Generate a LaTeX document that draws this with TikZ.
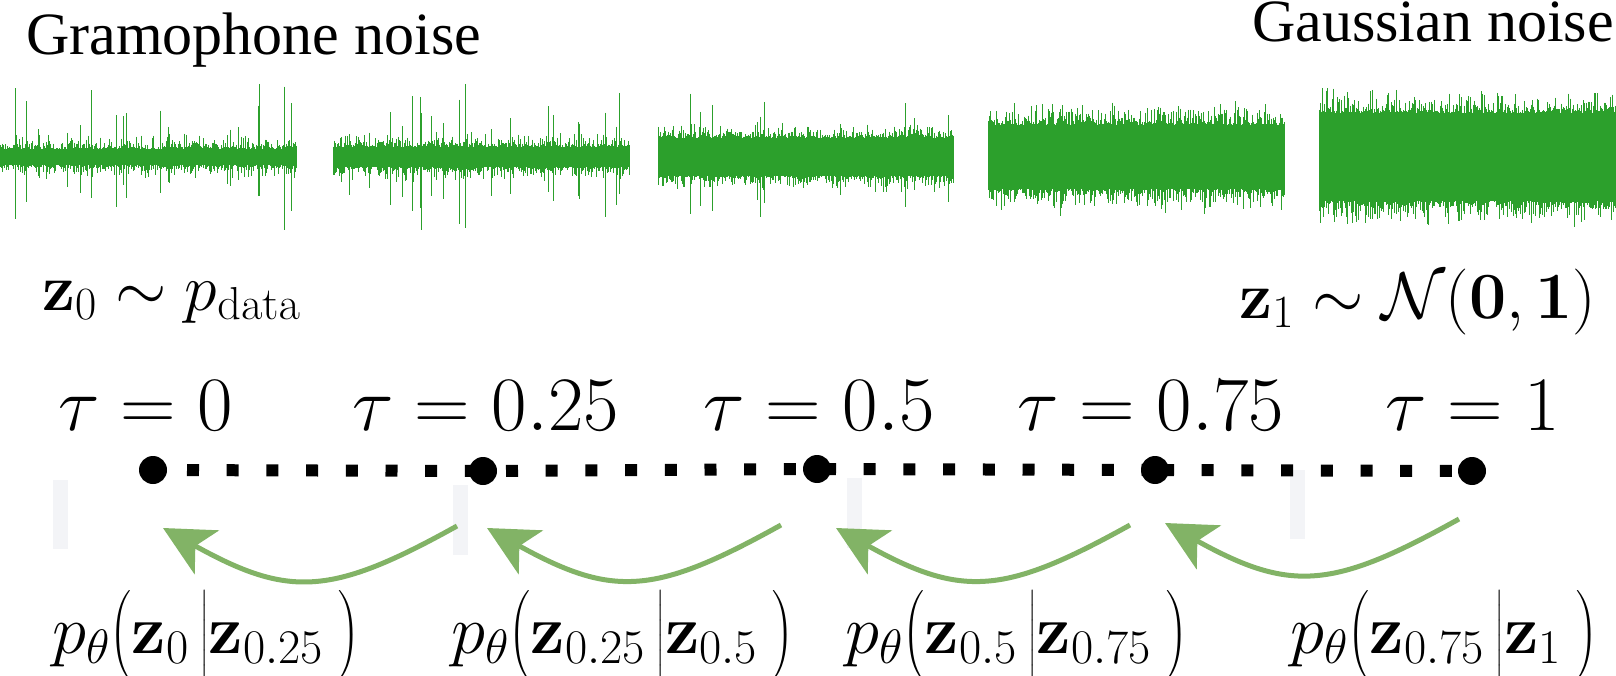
\RequirePackage{fix-cm}
\documentclass[tikz,border=0pt]{standalone}
\usepackage[no-math]{fontspec}
\usepackage{amsmath}
\usetikzlibrary{arrows.meta,calc}
\newfontfamily\tnr{Liberation Serif}
\definecolor{wavegreen}{HTML}{2CA02C}
\definecolor{arrgreen}{HTML}{82B366}
\definecolor{faint}{HTML}{F3F4F7}
% #1 x0, #2 x1, #3 core half-height, #4 fuzz, #5 spike probability, #6 spike size
\newcommand{\wavepanel}[6]{%
  \fill[wavegreen] (#1,157-#3) rectangle (#2,157+#3);
  \foreach \xx in {#1,...,#2}{%
    \pgfmathsetmacro\spk{(rnd<#5 ? #6*rnd : 0)}%
    \pgfmathsetmacro\up{min(73,#3+#4*rnd*rnd+\spk*(0.4+0.6*rnd))}%
    \pgfmathsetmacro\dn{min(73,#3+#4*rnd*rnd+\spk*(0.4+0.6*rnd))}%
    \draw[wave] (\xx,157-\up) -- (\xx,157+\dn);
  }}
\begin{document}
\begin{tikzpicture}[x=1pt,y=-1pt,
  title/.style={font=\tnr\fontsize{60}{66}\selectfont, inner sep=0},
  mlab/.style={font=\fontsize{66}{72}\selectfont, inner sep=0},
  taulab/.style={font=\fontsize{77}{84}\selectfont, inner sep=0, anchor=base west},
  plab/.style={font=\fontsize{69}{76}\selectfont, inner sep=0, anchor=base west},
  dot/.style={circle, fill=black, minimum size=28pt, inner sep=0},
  dotline/.style={line width=12pt, dash pattern=on 12pt off 27.7pt},
  flow/.style={arrgreen, line width=5pt, -{Stealth[length=50pt,width=50pt,inset=13pt]}},
  wave/.style={wavegreen, line width=1pt},
  bar/.style={fill=faint, draw=none}]
\useasboundingbox (0,0) rectangle (1616,676);
\pgfmathsetseed{11}

% faint bars
\fill[bar] (53,480) rectangle (68,549);
\fill[bar] (453,485) rectangle (468,555);
\fill[bar] (847,478) rectangle (862,548);
\fill[bar] (1290,470) rectangle (1305,539);

% waveforms
\wavepanel{0}{296}{8}{15}{0.10}{75}
\wavepanel{333}{629}{10}{16}{0.09}{75}
\wavepanel{658}{953}{19}{17}{0.03}{50}
\wavepanel{988}{1284}{32}{26}{0.02}{20}
\wavepanel{1319}{1616}{44}{28}{0.02}{10}

% titles
\node[title, anchor=base west] (gram) at (26,55) {Gramophone noise};
\node[title, anchor=base east] (gauss) at (1614,42) {Gaussian noise};
\node[mlab, anchor=base west] (z0) at (42,310) {$\mathbf{z}_0 \sim p_{\mathrm{data}}$};
\node[mlab, anchor=base east] (z1) at (1596,318) {$\mathbf{z}_1 \sim \mathcal{N}(\mathbf{0},\mathbf{1})$};

% tau labels
\node[taulab] (tau0) at (58,430) {$\tau = 0$};
\node[taulab] (tau1) at (352,430) {$\tau = 0.25$};
\node[taulab] (tau2) at (703,430) {$\tau = 0.5$};
\node[taulab] (tau3) at (1017,430) {$\tau = 0.75$};
\node[taulab] (tau4) at (1385,430) {$\tau = 1$};

% time points
\coordinate (p1) at (153,470);
\coordinate (p2) at (483,471);
\coordinate (p3) at (817,469);
\coordinate (p4) at (1155,470);
\coordinate (p5) at (1472,471);
\draw[dotline, dash phase=5.7pt] (p1) -- (p2);
\draw[dotline, dash phase=16.7pt] (p2) -- (p3);
\draw[dotline, dash phase=32.7pt] (p3) -- (p4);
\draw[dotline, dash phase=32.7pt] (p4) -- (p5);
\node[dot] (d1) at (p1) {};
\node[dot] (d2) at (p2) {};
\node[dot] (d3) at (p3) {};
\node[dot] (d4) at (p4) {};
\node[dot] (d5) at (p5) {};

% reverse arrows
\coordinate (s1) at (457,526); \coordinate (t1) at (163,528);
\coordinate (s2) at (781,525); \coordinate (t2) at (487,528);
\coordinate (s3) at (1130,525); \coordinate (t3) at (836,528);
\coordinate (s4) at (1459,519); \coordinate (t4) at (1165,523);
\draw[flow] (s1) .. controls ($(s1)+(-126,70)$) and ($(t1)+(126,70)$) .. (t1);
\draw[flow] (s2) .. controls ($(s2)+(-126,70)$) and ($(t2)+(126,70)$) .. (t2);
\draw[flow] (s3) .. controls ($(s3)+(-126,70)$) and ($(t3)+(126,70)$) .. (t3);
\draw[flow] (s4) .. controls ($(s4)+(-126,70)$) and ($(t4)+(126,70)$) .. (t4);

% conditional labels
\node[plab] (c1) at (52,653) {$p_\theta\big(\mathbf{z}_0\,\big|\mathbf{z}_{0.25}\mkern4mu\big)$};
\node[plab] (c2) at (451,653) {$p_\theta\big(\mathbf{z}_{0.25}\,\big|\mathbf{z}_{0.5}\mkern4mu\big)$};
\node[plab] (c3) at (845,653) {$p_\theta\big(\mathbf{z}_{0.5}\,\big|\mathbf{z}_{0.75}\mkern4mu\big)$};
\node[plab] (c4) at (1290,653) {$p_\theta\big(\mathbf{z}_{0.75}\,\big|\mathbf{z}_{1}\mkern4mu\big)$};
\end{tikzpicture}
\end{document}
